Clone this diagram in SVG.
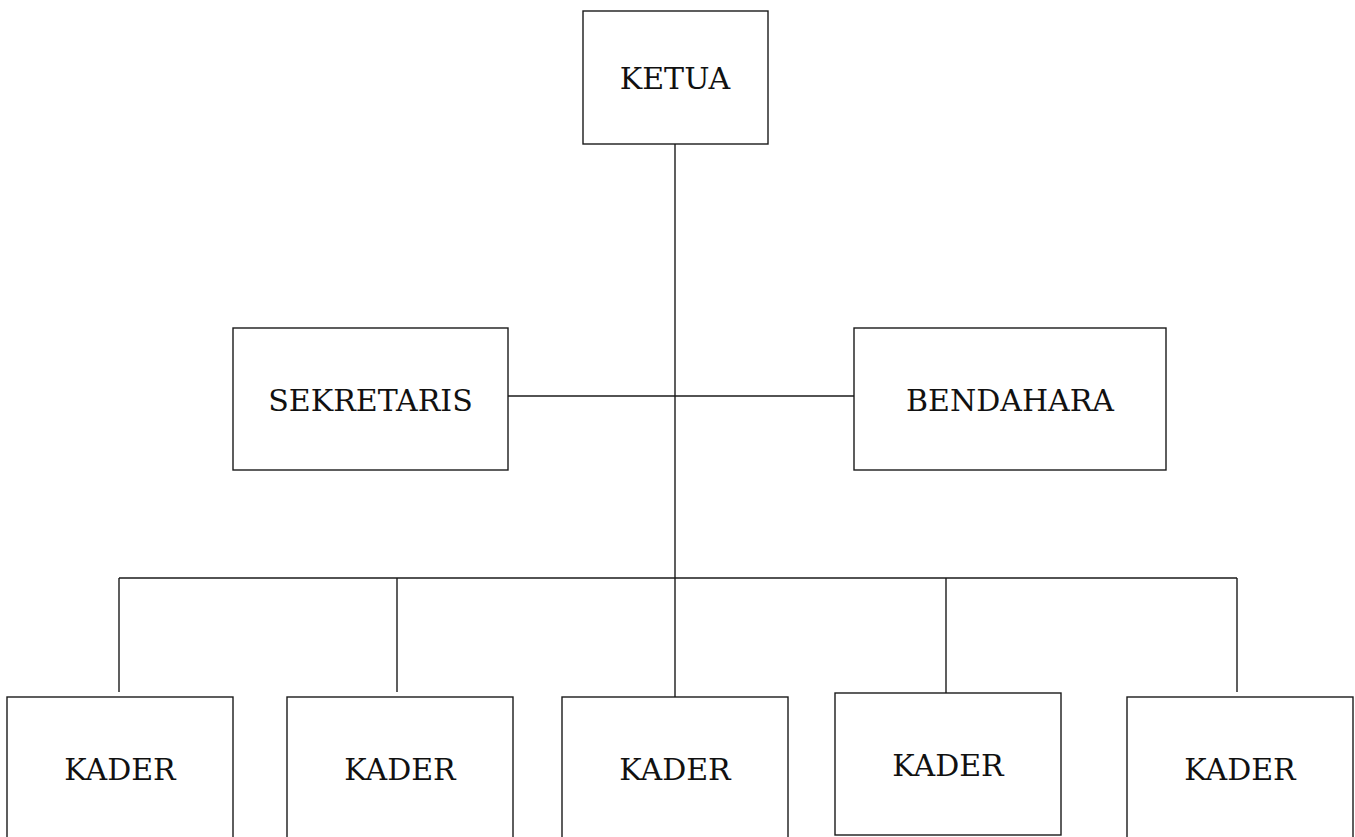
<svg xmlns="http://www.w3.org/2000/svg" width="1355" height="837" viewBox="0 0 1355 837">
<style>
.box{fill:#fff;stroke:#1a1a1a;stroke-width:1.4}
.lbl{font-family:"DejaVu Serif","Liberation Serif",serif;font-size:30px;fill:#111;text-anchor:middle}
.con{stroke:#1a1a1a;stroke-width:1.4;fill:none}
</style>
<rect width="1355" height="837" fill="#fff"/>
<g id="connectors">
<line class="con" x1="675" y1="144" x2="675" y2="697"/>
<line class="con" x1="508" y1="396" x2="854" y2="396"/>
<line class="con" x1="119" y1="578" x2="1237" y2="578"/>
<line class="con" x1="119" y1="578" x2="119" y2="692"/>
<line class="con" x1="397" y1="578" x2="397" y2="692"/>
<line class="con" x1="946" y1="578" x2="946" y2="693"/>
<line class="con" x1="1237" y1="578" x2="1237" y2="692"/>
</g>
<g id="ketua"><rect class="box" x="583" y="11" width="185" height="133"/><text class="lbl" x="675" y="89">KETUA</text></g>
<g id="sekretaris"><rect class="box" x="233" y="328" width="275" height="142"/><text class="lbl" x="370.5" y="411">SEKRETARIS</text></g>
<g id="bendahara"><rect class="box" x="854" y="328" width="312" height="142"/><text class="lbl" x="1010" y="411">BENDAHARA</text></g>
<g id="kader1"><rect class="box" x="7" y="697" width="226" height="160"/><text class="lbl" x="120" y="780">KADER</text></g>
<g id="kader2"><rect class="box" x="287" y="697" width="226" height="160"/><text class="lbl" x="400" y="780">KADER</text></g>
<g id="kader3"><rect class="box" x="562" y="697" width="226" height="160"/><text class="lbl" x="675" y="780">KADER</text></g>
<g id="kader4"><rect class="box" x="835" y="693" width="226" height="142"/><text class="lbl" x="948" y="776">KADER</text></g>
<g id="kader5"><rect class="box" x="1127" y="697" width="226" height="160"/><text class="lbl" x="1240" y="780">KADER</text></g>
</svg>
